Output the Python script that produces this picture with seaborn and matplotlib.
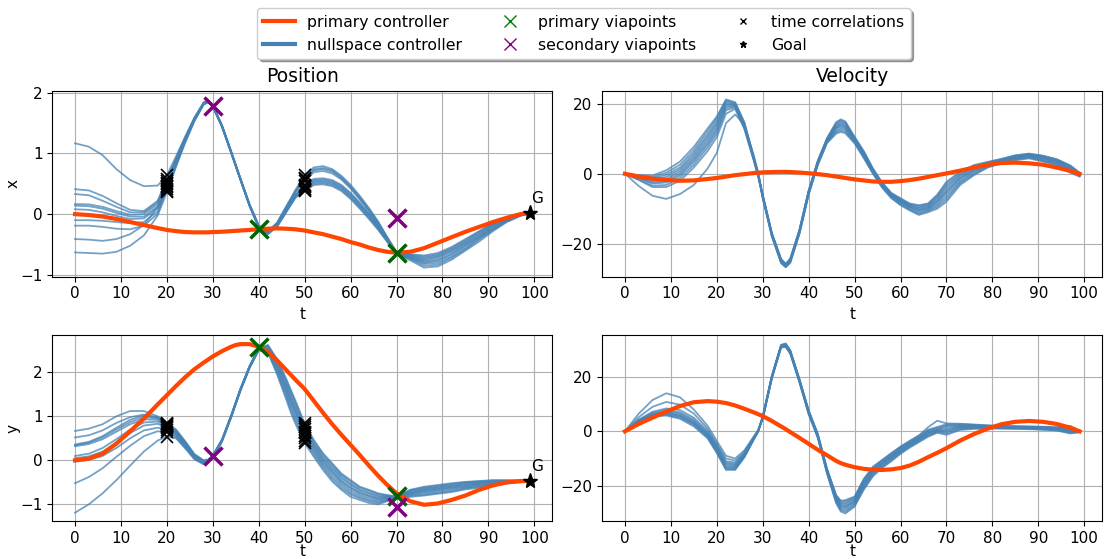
import pandas as pd
import matplotlib
matplotlib.use("Agg")
import matplotlib.pyplot as plt
from matplotlib.lines import Line2D
import seaborn as sns

# time grid shared by every series
t = [0, 3, 6, 9, 12, 15, 18, 20, 22, 24, 26, 28, 29, 30, 32, 34, 35, 36, 38, 40,
     42, 44, 46, 47, 48, 50, 52, 54, 56, 58, 60, 62, 64, 66, 68, 70, 73, 76, 79, 82,
     85, 88, 91, 94, 97, 99]

# ---- x position ----
x_primary = [0, -0.015, -0.04, -0.08, -0.13, -0.18, -0.23, -0.26, -0.28, -0.295, -0.30, -0.30,
             -0.30, -0.295, -0.29, -0.28, -0.275, -0.27, -0.26, -0.25, -0.24, -0.235, -0.24,
             -0.245, -0.25, -0.27, -0.30, -0.33, -0.37, -0.41, -0.46, -0.50, -0.55, -0.59,
             -0.62, -0.635, -0.62, -0.56, -0.47, -0.38, -0.29, -0.21, -0.13, -0.06, 0.0, 0.02]
x_nullspace = [
    [1.165, 1.11, 0.97, 0.74, 0.56, 0.46, 0.47, 0.64, 0.95, 1.28, 1.59, 1.84, 1.87, 1.79, 1.46, 1.03, 0.81, 0.59, 0.16, -0.19, -0.28, -0.14, 0.13, 0.26, 0.40, 0.64, 0.77, 0.79, 0.74, 0.63, 0.48, 0.30, 0.10, -0.12, -0.38, -0.62, -0.66, -0.68, -0.64, -0.54, -0.41, -0.28, -0.15, -0.05, 0.01, 0.02],
    [0.41, 0.39, 0.30, 0.18, 0.07, 0.05, 0.22, 0.58, 0.92, 1.26, 1.58, 1.83, 1.87, 1.79, 1.46, 1.03, 0.81, 0.59, 0.16, -0.19, -0.29, -0.15, 0.12, 0.25, 0.38, 0.60, 0.74, 0.76, 0.72, 0.61, 0.46, 0.28, 0.08, -0.14, -0.39, -0.63, -0.67, -0.70, -0.66, -0.56, -0.43, -0.29, -0.16, -0.06, 0.0, 0.02],
    [0.33, 0.31, 0.22, 0.12, 0.03, 0.03, 0.20, 0.55, 0.90, 1.25, 1.57, 1.83, 1.86, 1.78, 1.45, 1.02, 0.80, 0.58, 0.15, -0.20, -0.29, -0.15, 0.11, 0.24, 0.37, 0.58, 0.72, 0.74, 0.70, 0.59, 0.44, 0.26, 0.06, -0.15, -0.40, -0.63, -0.68, -0.72, -0.68, -0.58, -0.45, -0.31, -0.17, -0.07, 0.0, 0.02],
    [0.165, 0.16, 0.12, 0.05, -0.01, 0.0, 0.17, 0.52, 0.88, 1.24, 1.57, 1.82, 1.86, 1.78, 1.45, 1.02, 0.80, 0.58, 0.15, -0.20, -0.30, -0.16, 0.10, 0.23, 0.36, 0.55, 0.69, 0.71, 0.67, 0.57, 0.42, 0.24, 0.05, -0.16, -0.41, -0.64, -0.69, -0.74, -0.70, -0.60, -0.47, -0.33, -0.19, -0.08, -0.01, 0.02],
    [0.14, 0.13, 0.09, 0.02, -0.04, -0.04, 0.13, 0.50, 0.87, 1.23, 1.56, 1.82, 1.86, 1.78, 1.45, 1.02, 0.80, 0.58, 0.15, -0.20, -0.30, -0.17, 0.08, 0.20, 0.32, 0.48, 0.58, 0.59, 0.56, 0.48, 0.35, 0.19, 0.01, -0.19, -0.42, -0.64, -0.70, -0.76, -0.72, -0.62, -0.49, -0.35, -0.20, -0.09, -0.01, 0.02],
    [0.08, 0.07, 0.03, -0.03, -0.08, -0.07, 0.10, 0.47, 0.85, 1.22, 1.56, 1.82, 1.85, 1.78, 1.45, 1.02, 0.80, 0.58, 0.15, -0.21, -0.31, -0.18, 0.07, 0.19, 0.31, 0.46, 0.56, 0.57, 0.54, 0.46, 0.33, 0.17, 0.0, -0.20, -0.43, -0.64, -0.71, -0.78, -0.75, -0.65, -0.51, -0.37, -0.22, -0.10, -0.01, 0.02],
    [-0.10, -0.10, -0.11, -0.13, -0.15, -0.13, 0.05, 0.44, 0.83, 1.21, 1.55, 1.81, 1.85, 1.77, 1.44, 1.01, 0.79, 0.57, 0.14, -0.21, -0.31, -0.19, 0.06, 0.18, 0.30, 0.44, 0.54, 0.55, 0.52, 0.44, 0.31, 0.15, -0.02, -0.21, -0.43, -0.65, -0.72, -0.80, -0.77, -0.67, -0.53, -0.38, -0.23, -0.11, -0.02, 0.01],
    [-0.19, -0.19, -0.21, -0.24, -0.25, -0.19, 0.01, 0.42, 0.82, 1.20, 1.55, 1.81, 1.85, 1.77, 1.44, 1.01, 0.79, 0.57, 0.14, -0.21, -0.32, -0.19, 0.05, 0.17, 0.29, 0.42, 0.52, 0.53, 0.50, 0.42, 0.29, 0.13, -0.04, -0.23, -0.44, -0.65, -0.73, -0.82, -0.80, -0.70, -0.56, -0.40, -0.25, -0.12, -0.02, 0.01],
    [-0.41, -0.42, -0.44, -0.41, -0.33, -0.18, 0.12, 0.38, 0.80, 1.19, 1.54, 1.81, 1.84, 1.77, 1.44, 1.01, 0.79, 0.57, 0.14, -0.22, -0.32, -0.20, 0.04, 0.16, 0.28, 0.40, 0.50, 0.51, 0.48, 0.40, 0.27, 0.11, -0.06, -0.24, -0.45, -0.66, -0.74, -0.85, -0.83, -0.72, -0.58, -0.42, -0.26, -0.12, -0.02, 0.01],
    [-0.63, -0.64, -0.65, -0.62, -0.52, -0.35, -0.02, 0.36, 0.78, 1.18, 1.53, 1.80, 1.84, 1.77, 1.44, 1.01, 0.79, 0.57, 0.13, -0.22, -0.33, -0.21, 0.03, 0.15, 0.27, 0.38, 0.48, 0.49, 0.46, 0.38, 0.25, 0.09, -0.08, -0.26, -0.46, -0.66, -0.76, -0.88, -0.86, -0.75, -0.60, -0.45, -0.28, -0.13, -0.03, 0.01],
]

# ---- y position ----
y_primary = [0, 0.04, 0.15, 0.38, 0.66, 0.95, 1.27, 1.48, 1.69, 1.89, 2.07, 2.22, 2.29, 2.36,
             2.48, 2.58, 2.62, 2.64, 2.64, 2.58, 2.46, 2.27, 2.05, 1.94, 1.83, 1.62, 1.35, 1.08,
             0.82, 0.58, 0.35, 0.12, -0.12, -0.35, -0.56, -0.75, -0.93, -1.01, -0.98, -0.90,
             -0.80, -0.67, -0.57, -0.50, -0.47, -0.47]
y_nullspace = [
    [0.667, 0.72, 0.82, 1.0, 1.12, 1.12, 1.0, 0.85, 0.70, 0.43, 0.14, 0.00, 0.02, 0.11, 0.47, 1.02, 1.32, 1.62, 2.14, 2.55, 2.62, 2.30, 1.85, 1.60, 1.35, 0.84, 0.46, 0.16, -0.07, -0.30, -0.45, -0.60, -0.67, -0.75, -0.79, -0.82, -0.67, -0.60, -0.56, -0.52, -0.49, -0.47, -0.45, -0.45, -0.46, -0.47],
    [0.52, 0.57, 0.68, 0.85, 0.98, 1.04, 0.98, 0.83, 0.68, 0.42, 0.13, -0.01, 0.01, 0.11, 0.47, 1.02, 1.32, 1.62, 2.14, 2.55, 2.61, 2.27, 1.81, 1.56, 1.31, 0.80, 0.43, 0.13, -0.10, -0.33, -0.48, -0.62, -0.69, -0.77, -0.80, -0.82, -0.68, -0.62, -0.58, -0.54, -0.50, -0.48, -0.46, -0.46, -0.46, -0.47],
    [0.36, 0.42, 0.55, 0.74, 0.92, 1.02, 0.97, 0.82, 0.66, 0.40, 0.12, -0.02, 0.01, 0.10, 0.46, 1.01, 1.31, 1.61, 2.13, 2.54, 2.59, 2.23, 1.76, 1.50, 1.25, 0.75, 0.38, 0.08, -0.15, -0.37, -0.53, -0.66, -0.73, -0.80, -0.82, -0.83, -0.70, -0.64, -0.60, -0.56, -0.52, -0.50, -0.48, -0.47, -0.47, -0.47],
    [0.34, 0.40, 0.52, 0.70, 0.87, 0.98, 0.95, 0.80, 0.64, 0.38, 0.10, -0.03, 0.00, 0.10, 0.46, 1.01, 1.31, 1.61, 2.13, 2.53, 2.57, 2.20, 1.71, 1.44, 1.19, 0.71, 0.35, 0.05, -0.19, -0.41, -0.56, -0.69, -0.76, -0.83, -0.83, -0.84, -0.72, -0.66, -0.62, -0.58, -0.54, -0.51, -0.49, -0.47, -0.47, -0.47],
    [0.32, 0.37, 0.48, 0.65, 0.82, 0.93, 0.92, 0.78, 0.62, 0.36, 0.09, -0.04, 0.00, 0.09, 0.45, 1.00, 1.30, 1.60, 2.12, 2.53, 2.55, 2.15, 1.65, 1.38, 1.13, 0.65, 0.30, 0.00, -0.24, -0.46, -0.61, -0.73, -0.80, -0.86, -0.85, -0.85, -0.74, -0.68, -0.64, -0.60, -0.56, -0.53, -0.50, -0.48, -0.48, -0.47],
    [0.10, 0.15, 0.28, 0.48, 0.70, 0.86, 0.88, 0.76, 0.60, 0.35, 0.08, -0.05, -0.01, 0.09, 0.45, 1.00, 1.30, 1.60, 2.12, 2.52, 2.53, 2.13, 1.62, 1.34, 1.09, 0.62, 0.27, -0.03, -0.27, -0.49, -0.64, -0.75, -0.82, -0.88, -0.86, -0.85, -0.75, -0.70, -0.66, -0.62, -0.58, -0.55, -0.52, -0.49, -0.48, -0.47],
    [0.05, 0.09, 0.20, 0.40, 0.62, 0.79, 0.83, 0.74, 0.58, 0.33, 0.07, -0.06, -0.02, 0.08, 0.44, 0.99, 1.29, 1.59, 2.11, 2.52, 2.51, 2.08, 1.56, 1.28, 1.03, 0.56, 0.22, -0.08, -0.32, -0.53, -0.69, -0.79, -0.86, -0.91, -0.88, -0.86, -0.77, -0.72, -0.68, -0.64, -0.60, -0.56, -0.53, -0.50, -0.48, -0.48],
    [-0.03, 0.01, 0.10, 0.28, 0.50, 0.68, 0.74, 0.70, 0.55, 0.31, 0.05, -0.07, -0.02, 0.08, 0.44, 0.99, 1.29, 1.59, 2.11, 2.51, 2.49, 2.04, 1.50, 1.21, 0.96, 0.50, 0.18, -0.12, -0.38, -0.58, -0.74, -0.83, -0.90, -0.94, -0.90, -0.86, -0.79, -0.75, -0.71, -0.67, -0.62, -0.58, -0.55, -0.51, -0.49, -0.48],
    [-0.52, -0.38, -0.18, 0.08, 0.33, 0.55, 0.66, 0.64, 0.52, 0.29, 0.04, -0.08, -0.03, 0.07, 0.43, 0.98, 1.28, 1.58, 2.10, 2.50, 2.47, 1.99, 1.44, 1.14, 0.89, 0.44, 0.13, -0.17, -0.43, -0.63, -0.78, -0.86, -0.93, -0.97, -0.91, -0.87, -0.81, -0.78, -0.74, -0.70, -0.64, -0.60, -0.56, -0.52, -0.49, -0.48],
    [-1.19, -1.0, -0.75, -0.45, -0.12, 0.20, 0.45, 0.54, 0.50, 0.27, 0.02, -0.09, -0.04, 0.06, 0.43, 0.98, 1.28, 1.58, 2.10, 2.50, 2.45, 1.95, 1.38, 1.08, 0.83, 0.39, 0.08, -0.22, -0.48, -0.67, -0.83, -0.90, -0.97, -1.0, -0.93, -0.88, -0.83, -0.80, -0.76, -0.72, -0.66, -0.62, -0.58, -0.53, -0.50, -0.48],
]

# ---- x velocity ----
vx_primary = [0, -0.8, -1.4, -1.8, -2.0, -1.9, -1.5, -1.2, -0.8, -0.4, -0.1, 0.2, 0.3, 0.4, 0.5,
              0.55, 0.55, 0.5, 0.35, 0.15, -0.1, -0.4, -0.8, -1.0, -1.2, -1.6, -1.9, -2.2, -2.3,
              -2.3, -2.1, -1.8, -1.4, -0.9, -0.4, 0.1, 0.9, 1.8, 2.6, 3.1, 3.2, 3.0, 2.6, 1.8, 0.8, 0.0]
vx_nullspace = [
    [0, -3.5, -6.3, -7.2, -5.8, -3.2, 1.5, 6.0, 14.5, 17.0, 14.0, 5.5, 0.5, -6.0, -17.0, -24.4, -25.8, -24.3, -16.0, -4.8, 3.8, 10.2, 14.8, 15.6, 15.0, 10.6, 6.5, 1.5, -2.5, -5.5, -7.0, -8.5, -9.0, -8.5, -6.0, -2.3, 0.6, 2.5, 3.4, 4.3, 5.3, 5.8, 5.2, 4.2, 2.4, 0.3],
    [0, -1.8, -3.8, -3.8, -2.0, 1.8, 6.5, 10.5, 17.2, 18.6, 12.8, 4.0, -0.8, -6.1, -17.1, -24.5, -25.9, -24.4, -16.1, -4.9, 3.7, 10.1, 14.5, 15.3, 14.7, 10.4, 6.3, 1.4, -2.6, -5.6, -7.2, -8.7, -9.2, -8.7, -6.3, -2.8, 0.3, 2.3, 3.3, 4.2, 5.2, 5.7, 5.1, 4.1, 2.2, 0.2],
    [0, -1.6, -3.4, -3.2, -1.2, 2.6, 7.5, 11.5, 18.2, 19.0, 13.2, 4.2, -0.6, -6.2, -17.2, -24.6, -26.0, -24.5, -16.2, -5.0, 3.5, 9.9, 14.1, 14.9, 14.3, 10.2, 6.1, 1.2, -2.8, -5.8, -7.4, -8.9, -9.6, -9.0, -6.8, -3.4, -0.2, 1.9, 3.1, 4.0, 5.0, 5.5, 4.9, 3.9, 2.0, 0.1],
    [0, -1.3, -2.8, -2.5, -0.5, 3.4, 8.3, 12.3, 18.8, 19.3, 13.5, 4.4, -0.5, -6.3, -17.3, -24.8, -26.1, -24.7, -16.4, -5.2, 3.4, 9.8, 13.8, 14.5, 14.0, 10.0, 5.9, 1.0, -3.0, -6.0, -7.6, -9.1, -9.8, -9.3, -7.2, -4.0, -0.5, 1.6, 2.9, 3.9, 4.9, 5.4, 4.7, 3.7, 1.8, 0.0],
    [0, -1.2, -2.5, -2.0, 0.0, 4.0, 9.0, 13.0, 19.3, 19.5, 13.7, 4.5, -0.4, -6.4, -17.4, -24.9, -26.2, -24.8, -16.5, -5.3, 3.3, 9.6, 13.4, 14.1, 13.6, 9.8, 5.7, 0.9, -3.1, -6.1, -7.8, -9.3, -10.2, -9.6, -7.7, -4.7, -1.0, 1.3, 2.7, 3.8, 4.7, 5.2, 4.5, 3.5, 1.5, -0.2],
    [0, -1.0, -2.1, -1.5, 0.6, 4.6, 9.8, 13.8, 19.8, 19.7, 13.9, 4.6, -0.3, -6.5, -17.5, -25.0, -26.3, -24.9, -16.6, -5.4, 3.2, 9.5, 13.2, 13.8, 13.3, 9.7, 5.5, 0.8, -3.2, -6.2, -8.0, -9.5, -10.4, -9.8, -8.0, -5.2, -1.3, 1.0, 2.6, 3.7, 4.6, 5.1, 4.4, 3.4, 1.3, -0.3],
    [0, -0.8, -1.6, -0.9, 1.2, 5.3, 10.6, 14.5, 20.2, 19.9, 14.1, 4.7, -0.2, -6.6, -17.6, -25.1, -26.4, -25.0, -16.7, -5.5, 3.0, 9.3, 12.8, 13.4, 12.9, 9.4, 5.3, 0.6, -3.4, -6.4, -8.2, -9.7, -10.7, -10.1, -8.5, -5.8, -1.8, 0.7, 2.4, 3.5, 4.4, 4.9, 4.1, 3.1, 1.1, -0.4],
    [0, -0.6, -1.2, -0.3, 1.8, 6.0, 11.3, 15.2, 20.6, 20.1, 14.3, 4.8, -0.1, -6.75, -17.75, -25.3, -26.55, -25.2, -16.9, -5.7, 2.8, 9.1, 12.3, 12.9, 12.5, 9.2, 5.0, 0.4, -3.6, -6.6, -8.5, -10.0, -11.1, -10.4, -9.0, -6.6, -2.3, 0.3, 2.2, 3.3, 4.3, 4.8, 3.9, 2.9, 0.8, -0.5],
    [0, -0.5, -0.9, 0.3, 2.6, 6.8, 12.2, 16.0, 21.0, 20.3, 14.5, 4.9, 0.0, -6.9, -17.9, -25.5, -26.7, -25.4, -17.1, -5.9, 2.7, 9.0, 11.9, 12.4, 12.0, 9.0, 4.7, 0.2, -3.8, -6.8, -8.8, -10.3, -11.5, -10.7, -9.5, -7.3, -2.7, -0.1, 2.0, 3.2, 4.1, 4.6, 3.7, 2.7, 0.5, -0.7],
    [0, -0.4, -0.5, 1.0, 3.5, 7.7, 13.0, 16.4, 21.3, 20.5, 14.8, 5.0, 0.1, -7.0, -18.0, -25.6, -26.8, -25.5, -17.2, -6.0, 2.5, 8.8, 11.5, 12.0, 11.6, 8.7, 4.5, 0.0, -4.0, -7.0, -9.0, -10.5, -11.8, -11.0, -10.0, -8.0, -3.2, -0.4, 1.8, 3.0, 3.9, 4.4, 3.5, 2.5, 0.3, -0.8],
]

# ---- y velocity ----
vy_primary = [0, 2.7, 5.0, 7.3, 9.3, 10.7, 11.1, 10.9, 10.4, 9.5, 8.3, 7.0, 6.3, 5.6, 3.8, 1.8,
              0.8, -0.3, -2.4, -4.6, -6.8, -8.8, -10.9, -11.7, -12.3, -13.2, -13.8, -14.1, -14.2,
              -14.0, -13.5, -12.6, -11.2, -9.5, -7.9, -6.2, -3.4, -1.0, 1.0, 2.6, 3.5, 3.8, 3.5,
              2.7, 1.3, 0.0]
vy_nullspace = [
    [0, 3.4, 5.4, 5.8, 4.6, 1.8, -2.6, -8.0, -14.2, -14.2, -9.6, -3.2, -0.1, 5.5, 20.5, 31.8, 32.3, 29.8, 19.2, 7.7, -1.0, -13.8, -23.5, -25.5, -25.3, -24.0, -17.5, -13.0, -10.5, -8.0, -5.6, -3.5, -1.5, 1.5, 3.9, 2.9, 2.8, 2.5, 2.2, 2.0, 1.9, 1.8, 1.7, 1.5, 2.0, 0.0],
    [0, 3.5, 5.6, 6.1, 5.0, 2.3, -2.2, -7.6, -13.8, -13.9, -9.4, -3.1, -0.1, 5.4, 20.4, 31.7, 32.2, 29.7, 19.1, 7.6, -1.1, -13.9, -23.7, -25.8, -25.7, -24.3, -17.8, -13.3, -10.7, -8.2, -5.8, -3.7, -1.7, 0.6, 1.6, 2.6, 2.6, 2.4, 2.1, 1.9, 1.8, 1.7, 1.6, 1.4, 1.6, 0.0],
    [0, 3.6, 5.8, 6.4, 5.4, 2.7, -1.8, -7.2, -13.4, -13.6, -9.2, -3.0, 0.0, 5.3, 20.3, 31.6, 32.0, 29.5, 19.0, 7.4, -1.3, -14.1, -24.1, -26.3, -26.3, -24.7, -18.3, -13.7, -11.1, -8.6, -6.1, -4.0, -2.0, 0.3, 1.2, 2.2, 2.3, 2.2, 2.0, 1.8, 1.7, 1.6, 1.5, 1.3, 1.2, -0.1],
    [0, 3.7, 6.0, 6.7, 5.7, 3.0, -1.5, -6.8, -13.0, -13.2, -9.0, -2.9, 0.0, 5.2, 20.2, 31.5, 31.9, 29.4, 18.8, 7.3, -1.5, -14.3, -24.4, -26.7, -26.8, -25.1, -18.7, -14.1, -11.4, -8.9, -6.4, -4.3, -2.3, 0.0, 0.9, 1.8, 2.1, 2.0, 1.9, 1.7, 1.6, 1.5, 1.4, 1.1, 0.8, -0.1],
    [0, 3.8, 6.2, 7.0, 6.0, 3.3, -1.2, -6.4, -12.5, -12.8, -8.8, -2.8, 0.1, 5.1, 20.1, 31.4, 31.8, 29.3, 18.7, 7.1, -1.6, -14.5, -24.8, -27.2, -27.4, -25.6, -19.2, -14.5, -11.8, -9.3, -6.7, -4.6, -2.6, -0.4, 0.6, 1.2, 1.8, 1.8, 1.7, 1.6, 1.5, 1.4, 1.2, 1.0, 0.5, -0.1],
    [0, 4.0, 6.5, 7.4, 6.5, 3.8, -0.8, -6.0, -12.0, -12.4, -8.6, -2.7, 0.1, 5.0, 20.0, 31.3, 31.7, 29.2, 18.6, 7.0, -1.8, -14.7, -25.0, -27.5, -27.8, -25.9, -19.5, -14.8, -12.0, -9.5, -7.0, -4.8, -2.8, -0.6, 0.4, 0.6, 1.6, 1.7, 1.6, 1.5, 1.4, 1.3, 1.1, 0.9, 0.3, -0.2],
    [0, 4.1, 6.8, 7.8, 7.0, 4.3, -0.4, -5.5, -11.5, -12.0, -8.3, -2.6, 0.2, 4.9, 19.9, 31.2, 31.5, 29.0, 18.5, 6.8, -1.9, -14.9, -25.4, -28.0, -28.3, -26.3, -20.0, -15.2, -12.4, -9.9, -7.3, -5.1, -3.1, -1.0, 0.2, 0.2, 1.4, 1.5, 1.5, 1.4, 1.3, 1.2, 1.0, 0.8, 0.0, -0.2],
    [0, 4.3, 7.2, 8.4, 7.8, 5.0, 0.2, -5.0, -11.0, -11.5, -8.0, -2.5, 0.2, 4.75, 19.75, 31.05, 31.3, 28.8, 18.3, 6.6, -2.1, -15.1, -25.8, -28.5, -29.0, -26.8, -20.5, -15.6, -12.8, -10.3, -7.6, -5.4, -3.4, -1.3, -0.1, -0.3, 1.1, 1.3, 1.3, 1.3, 1.2, 1.1, 0.9, 0.6, -0.3, -0.2],
    [0, 5.2, 9.0, 10.8, 9.8, 6.5, 1.0, -4.5, -10.0, -10.8, -7.5, -2.3, 0.3, 4.6, 19.6, 30.9, 31.2, 28.7, 18.1, 6.5, -2.3, -15.3, -26.1, -29.0, -29.6, -27.3, -21.0, -16.1, -13.1, -10.6, -8.0, -5.7, -3.7, -1.7, -0.3, -0.8, 0.8, 1.1, 1.2, 1.1, 1.0, 0.9, 0.7, 0.4, -0.6, -0.3],
    [0, 6.5, 11.5, 14.0, 12.5, 8.0, 2.0, -3.5, -9.0, -10.0, -7.0, -2.0, 0.5, 4.5, 19.5, 30.8, 31.0, 28.5, 18.0, 6.3, -2.5, -15.5, -26.5, -29.5, -30.2, -27.7, -21.5, -16.5, -13.5, -11.0, -8.3, -6.0, -4.0, -2.0, -0.5, -1.3, 0.5, 0.9, 1.0, 1.0, 0.9, 0.8, 0.6, 0.3, -0.8, -0.3],
]

# via points, time correlations, goal
primary_via_t = [40, 70]
primary_via_x = [-0.245, -0.645]
primary_via_y = [2.57, -0.82]
secondary_via_t = [30, 70]
secondary_via_x = [1.785, -0.07]
secondary_via_y = [0.10, -1.07]
corr_t = [20, 50]
goal_t = 99
goal_x = 0.02
goal_y = -0.47


def long_form(curves):
    rows = []
    for run, curve in enumerate(curves):
        for tt, v in zip(t, curve, strict=True):
            rows.append((run, tt, v))
    return pd.DataFrame(rows, columns=["run", "t", "value"])


plt.rcParams["font.family"] = ["DejaVu Sans"]
plt.rcParams["font.size"] = 11

fig, axes = plt.subplots(2, 2, figsize=(11.08, 5.59), dpi=100)
plt.subplots_adjust(left=0.0472, right=0.9949, top=0.8377, bottom=0.0674,
                    wspace=0.0995, hspace=0.315)

panels = [
    (axes[0, 0], x_nullspace, x_primary, (-1.03, 2.03), [-1, 0, 1, 2]),
    (axes[1, 0], y_nullspace, y_primary, (-1.386, 2.84), [-1, 0, 1, 2]),
    (axes[0, 1], vx_nullspace, vx_primary, (-29.5, 23.8), [-20, 0, 20]),
    (axes[1, 1], vy_nullspace, vy_primary, (-33.1, 35.3), [-20, 0, 20]),
]

for ax, null_curves, prim, ylim, yticks in panels:
    sns.lineplot(data=long_form(null_curves), x="t", y="value", units="run",
                 estimator=None, color="steelblue", lw=1.3, alpha=0.75,
                 legend=False, ax=ax, zorder=2)
    sns.lineplot(x=t, y=prim, color="orangered", lw=3, ax=ax, zorder=3)
    ax.set_xlim(-4.95, 103.95)
    ax.set_ylim(*ylim)
    ax.set_xticks(range(0, 101, 10))
    ax.set_yticks(yticks)
    ax.grid(True, color="#b0b0b0", lw=0.8)
    ax.set_axisbelow(True)
    ax.set_xlabel("t")
    ax.set_ylabel("")

# bottom row: keep the x label inside the canvas
for ax in axes[1]:
    ax.set_xlabel("t", labelpad=-1.5)

# markers on the position panels
for ax, null_curves, pv, sv, goal, lab in [
        (axes[0, 0], x_nullspace, primary_via_x, secondary_via_x, goal_x, "x"),
        (axes[1, 0], y_nullspace, primary_via_y, secondary_via_y, goal_y, "y")]:
    for ct in corr_t:
        idx = t.index(ct)
        vals = [c[idx] for c in null_curves]
        ax.plot([ct] * len(vals), vals, "x", color="black", ms=8, mew=1.2, zorder=4)
    ax.plot(primary_via_t, pv, "x", color="darkgreen", ms=13, mew=2.5, zorder=5)
    ax.plot(secondary_via_t, sv, "x", color="purple", ms=13, mew=2.5, zorder=5)
    ax.plot(goal_t, goal, "*", color="black", ms=11, zorder=6)
    ax.annotate("G", (goal_t, goal), xytext=(1, 5), textcoords="offset points",
                ha="left", va="bottom", fontsize=11)
    ax.set_ylabel(lab, labelpad=0)

axes[0, 0].set_title("Position", fontsize=13.5)
axes[0, 1].set_title("Velocity", fontsize=13.5)

handles = [
    Line2D([], [], color="orangered", lw=3, label="primary controller"),
    Line2D([], [], color="steelblue", lw=3, label="nullspace controller"),
    Line2D([], [], color="green", marker="x", ls="none", ms=9, label="primary viapoints"),
    Line2D([], [], color="purple", marker="x", ls="none", ms=9, label="secondary viapoints"),
    Line2D([], [], color="black", marker="x", ls="none", ms=4, label="time correlations"),
    Line2D([], [], color="black", marker="*", ls="none", ms=5, label="Goal"),
]
fig.legend(handles=handles, loc="upper center", bbox_to_anchor=(0.527, 0.999),
           ncol=3, shadow=True, fontsize=11.3)

fig.savefig("out.png", dpi=100)
